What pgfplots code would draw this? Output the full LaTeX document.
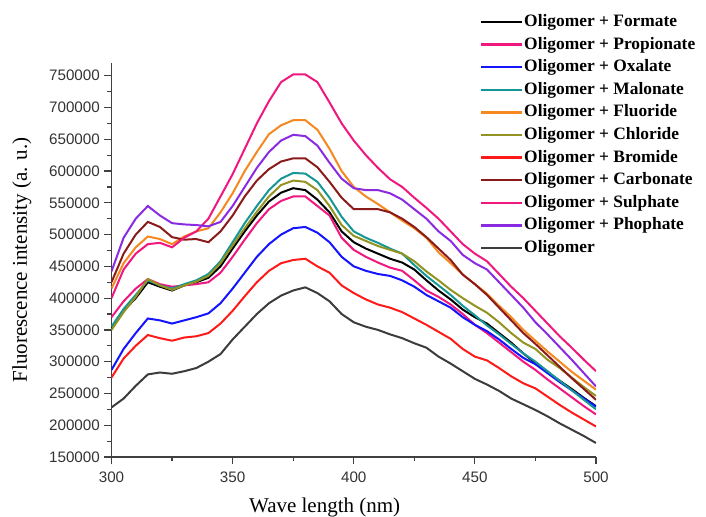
\documentclass[border=0pt]{standalone}
\usepackage{fontspec}
\setmainfont{Liberation Serif}
\newfontfamily\tickfont{Liberation Sans}
\usepackage{pgfplots}
\usepackage{pgfplotstable}
\pgfplotsset{compat=1.18}
\definecolor{cBla}{HTML}{000000}
\definecolor{cPro}{HTML}{F0187F}
\definecolor{cBlu}{HTML}{1414FF}
\definecolor{cTea}{HTML}{169696}
\definecolor{cOra}{HTML}{F5891F}
\definecolor{cOli}{HTML}{939322}
\definecolor{cRed}{HTML}{FF1A1A}
\definecolor{cBro}{HTML}{8B1A1A}
\definecolor{cSul}{HTML}{F0187F}
\definecolor{cPur}{HTML}{8A2BE2}
\definecolor{cGra}{HTML}{3C3C3C}
\pgfplotsset{myleg/.style={legend image code/.code={\draw[##1,line width=1.2pt] (0pt,0pt) -- (20.5pt,0pt);}}}

\pgfplotstableread{
x   bla pro blu tea ora oli red bro sul pur gra
300 352 370 287 355 415 350 275 425 400 442 228
305 380 395 320 383 455 378 305 470 445 495 242
310 400 415 345 405 480 402 325 500 470 525 262
315 425 430 368 428 497 430 342 520 485 545 280
320 418 422 365 420 493 420 337 512 487 530 283
325 412 418 360 415 485 413 333 496 480 518 281
330 420 420 365 422 497 420 338 492 495 516 285
335 425 422 370 428 505 426 340 493 505 515 290
340 432 425 376 438 510 435 345 488 525 513 300
345 450 440 392 458 535 455 360 505 560 520 312
350 478 465 415 488 565 483 380 530 595 545 335
355 505 492 440 518 600 510 403 560 635 575 355
360 530 518 465 545 630 536 425 585 675 605 375
365 552 540 485 570 658 560 443 603 710 630 392
370 566 553 500 588 672 578 455 615 740 648 404
375 573 560 510 597 680 585 460 620 752 657 412
380 570 560 512 596 680 583 462 620 752 655 417
385 555 545 503 583 665 570 450 606 740 640 408
390 535 530 488 558 635 545 440 583 708 613 395
395 505 495 465 528 600 515 420 558 675 588 375
400 488 476 450 505 575 498 408 540 648 573 362
405 478 465 443 495 560 490 398 540 625 570 355
410 470 456 438 487 548 482 390 540 605 570 350
415 462 448 435 478 535 476 385 535 587 565 343
420 456 443 428 470 522 470 378 525 575 555 337
425 445 428 418 452 510 458 368 512 558 540 329
430 428 412 405 435 495 442 358 496 542 525 322
435 412 402 395 420 472 428 347 478 525 505 308
440 398 390 385 405 455 413 336 460 505 490 297
445 382 375 370 388 437 400 320 437 485 468 285
450 370 358 358 373 422 388 308 422 470 455 273
455 360 345 348 357 407 377 302 405 458 445 264
460 345 330 335 343 388 362 290 385 438 425 254
465 330 315 320 328 370 345 277 365 418 405 242
470 313 300 306 313 350 330 266 345 400 385 233
475 298 287 296 300 333 320 258 328 380 362 224
480 283 272 282 285 316 303 245 310 360 343 214
485 270 258 268 270 300 290 232 292 340 323 203
490 257 244 255 255 284 275 220 274 322 303 193
495 243 230 242 240 270 260 209 257 303 282 183
500 230 217 229 225 256 246 198 240 285 261 172
}\data

\begin{document}
\begin{tikzpicture}[x=1pt,y=1pt]
\useasboundingbox (0,0) rectangle (353,258);
\begin{axis}[
  at={(55.75pt,29.5pt)}, anchor=south west,
  scale only axis, width=242.25pt, height=197pt,
  xmin=300, xmax=500, ymin=150000, ymax=770000,
  axis lines=left, axis line style={-, black!75, line width=0.8pt},
  xtick={300,350,...,500}, minor x tick num=1,
  ytick={150000,200000,...,750000}, minor y tick num=1,
  tick align=outside, major tick length=3.5pt, minor tick length=2pt,
  tick style={black!75, line width=0.6pt},
  scaled y ticks=false,
  /pgf/number format/.cd, fixed, 1000 sep={}, assume math mode=true,
  /pgfplots/.cd,
  tick label style={font=\tickfont\fontsize{7.6}{8.6}\selectfont, text=black!80},
  yticklabel style={xshift=1.2pt},
  xticklabel style={yshift=-0.5pt},
  xlabel={Wave length (nm)}, ylabel={Fluorescence intensity (a. u.)},
  label style={font=\fontsize{10.5}{12}\selectfont},
  xlabel style={at={(axis description cs:0.44,-0.129)}, anchor=center},
  ylabel style={at={(axis description cs:-0.185,0.5)}, anchor=center},
  legend cell align=left,
  legend style={at={(axis description cs:0.747,1.1396)}, anchor=north west,
    draw=none, fill=none, font=\bfseries\fontsize{8.7}{10}\selectfont,
    row sep=1.8pt, nodes={inner sep=0.5pt, text height=6.5pt, text depth=2pt}},
  myleg,
  every axis plot/.append style={line width=1pt},
]
\addplot[cBla] table[x=x, y expr=\thisrow{bla}*1000] {\data};
\addlegendentry{Oligomer + Formate}
\addplot[cPro] table[x=x, y expr=\thisrow{pro}*1000] {\data};
\addlegendentry{Oligomer + Propionate}
\addplot[cBlu] table[x=x, y expr=\thisrow{blu}*1000] {\data};
\addlegendentry{Oligomer + Oxalate}
\addplot[cTea] table[x=x, y expr=\thisrow{tea}*1000] {\data};
\addlegendentry{Oligomer + Malonate}
\addplot[cOra] table[x=x, y expr=\thisrow{ora}*1000] {\data};
\addlegendentry{Oligomer + Fluoride}
\addplot[cOli] table[x=x, y expr=\thisrow{oli}*1000] {\data};
\addlegendentry{Oligomer + Chloride}
\addplot[cRed] table[x=x, y expr=\thisrow{red}*1000] {\data};
\addlegendentry{Oligomer + Bromide}
\addplot[cBro] table[x=x, y expr=\thisrow{bro}*1000] {\data};
\addlegendentry{Oligomer + Carbonate}
\addplot[cSul] table[x=x, y expr=\thisrow{sul}*1000] {\data};
\addlegendentry{Oligomer + Sulphate}
\addplot[cPur] table[x=x, y expr=\thisrow{pur}*1000] {\data};
\addlegendentry{Oligomer + Phophate}
\addplot[cGra] table[x=x, y expr=\thisrow{gra}*1000] {\data};
\addlegendentry{Oligomer}
\end{axis}
\end{tikzpicture}
\end{document}
